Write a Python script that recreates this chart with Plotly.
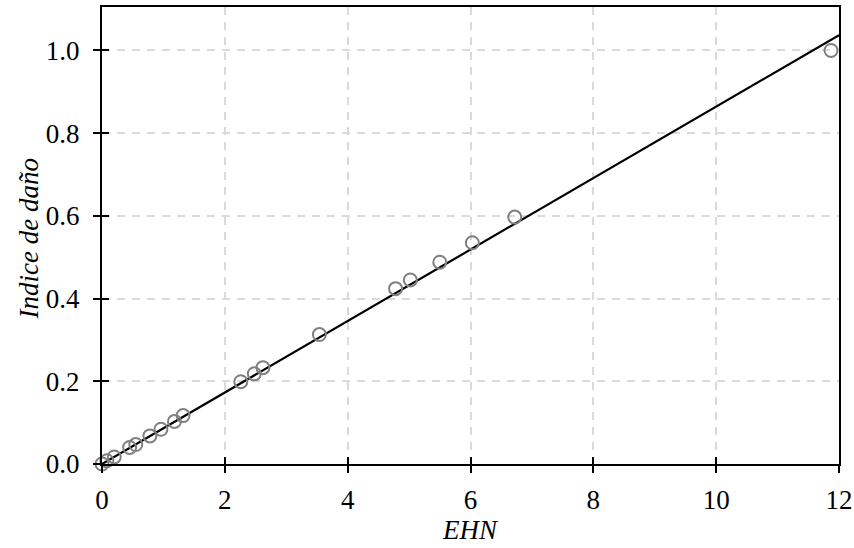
import plotly.graph_objects as go

# Data
ehn = [0.0, 0.08, 0.2, 0.45, 0.55, 0.78, 0.96, 1.18, 1.32, 2.26, 2.48, 2.62,
       3.54, 4.78, 5.02, 5.50, 6.03, 6.72, 11.87]
damage = [0.0, 0.008, 0.017, 0.040, 0.047, 0.068, 0.084, 0.103, 0.117, 0.199, 0.218, 0.233,
          0.313, 0.424, 0.445, 0.488, 0.535, 0.597, 1.0]
fit_x = [0.0, 12.0]
fit_y = [0.0, 1.037]

x_ticks = [0, 2, 4, 6, 8, 10, 12]
y_ticks = [0.0, 0.2, 0.4, 0.6, 0.8, 1.0]
x_title = "EHN"
y_title = "Indice de daño"

FONT = "Liberation Serif"
FS = 27

fig = go.Figure()
fig.add_trace(go.Scatter(x=fit_x, y=fit_y, mode="lines",
                         line=dict(color="black", width=2.2), showlegend=False))
fig.add_trace(go.Scatter(x=ehn, y=damage, mode="markers",
                         marker=dict(symbol="circle-open", size=13, color="#808080",
                                     line=dict(width=2, color="#808080")),
                         showlegend=False, cliponaxis=False))

# overlay axes to give ticks crossing the axis line
fig.add_trace(go.Scatter(x=[None], y=[None], xaxis="x2", yaxis="y2", showlegend=False))

axis_common = dict(showline=True, linecolor="black", linewidth=2, mirror=True,
                   ticks="outside", ticklen=7, tickwidth=1.8, tickcolor="black",
                   gridcolor="#dadada", griddash="8px,7px", gridwidth=2,
                   zeroline=False, automargin=False,
                   tickfont=dict(family=FONT, size=FS, color="black"))

fig.update_layout(
    width=854, height=548,
    margin=dict(l=102, r=15, t=7, b=84),
    plot_bgcolor="white", paper_bgcolor="white",
    xaxis=dict(range=[0, 12], tickvals=x_ticks, ticktext=[str(v) for v in x_ticks],
               ticklabelstandoff=4, **axis_common),
    yaxis=dict(range=[0, 1.105], tickvals=y_ticks, ticktext=[f"{v:.1f}" for v in y_ticks],
               ticklabelstandoff=8, **axis_common),
    xaxis2=dict(overlaying="x", range=[0, 12], tickvals=x_ticks, ticks="inside", ticklen=7,
                tickwidth=1.8, tickcolor="black", showticklabels=False, showgrid=False,
                showline=False, zeroline=False, side="bottom", anchor="y2", automargin=False),
    yaxis2=dict(overlaying="y", range=[0, 1.105], tickvals=y_ticks, ticks="inside", ticklen=7,
                tickwidth=1.8, tickcolor="black", showticklabels=False, showgrid=False,
                showline=False, zeroline=False, side="left", anchor="x2", automargin=False),
)

fig.add_annotation(text=f"<i>{x_title}</i>", xref="paper", yref="paper", x=0.5, y=0,
                   xanchor="center", yanchor="bottom", yshift=-83, showarrow=False,
                   font=dict(family=FONT, size=FS, color="black"))
fig.add_annotation(text=f"<i>{y_title}</i>", xref="paper", yref="paper", x=0, y=0.5,
                   xanchor="center", yanchor="middle", xshift=-74, yshift=-4, textangle=-90,
                   showarrow=False, font=dict(family=FONT, size=FS, color="black"))

fig.write_html("out.html")
